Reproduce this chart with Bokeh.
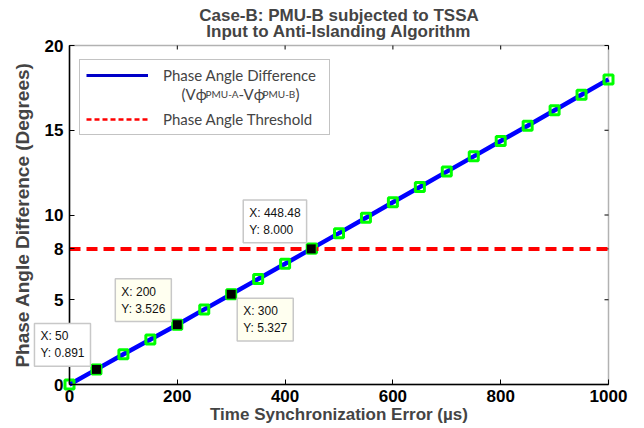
import math
from bokeh.plotting import figure
from bokeh.models import (Label, Legend, LegendItem, FixedTicker, Range1d,
                          ColumnDataSource, BoxAnnotation)
from bokeh.embed import file_html
from bokeh.resources import INLINE

# Phase angle difference vs. time synchronization error
error_us = [0, 50, 100, 150, 200, 250, 300, 350, 400, 450, 500,
            550, 600, 650, 700, 750, 800, 850, 900, 950, 1000]
phase_diff = [0.0, 0.891, 1.78, 2.66, 3.526, 4.43, 5.327, 6.22, 7.12, 8.03, 8.93,
              9.84, 10.75, 11.65, 12.56, 13.46, 14.37, 15.27, 16.18, 17.09, 18.0]
threshold = 8.0

# Data tips
tip_x = [50, 200, 300, 448.48]
tip_y = [0.891, 3.526, 5.327, 8.000]

x_ticks = [0, 200, 400, 600, 800, 1000]
y_ticks = [0, 5, 8, 10, 15, 20]

title_lines = ["Case-B: PMU-B subjected to TSSA", "Input to Anti-Islanding Algorithm"]

FONT = "Liberation Sans"
LEGEND_FONT = "Lato"

# The plotting area fills the canvas; the axes box is placed with margins
W, H = 644, 428
M_LEFT, M_RIGHT, M_TOP, M_BOTTOM = 69, 36, 45, 44
x0, x1 = x_ticks[0], x_ticks[-1]
y0, y1 = y_ticks[0], y_ticks[-1]
kx = (x1 - x0) / (W - M_LEFT - M_RIGHT)
ky = (y1 - y0) / (H - M_TOP - M_BOTTOM)

p = figure(width=W, height=H, output_backend="svg", toolbar_location=None,
           x_range=Range1d(x0 - M_LEFT * kx, x1 + M_RIGHT * kx),
           y_range=Range1d(y0 - M_BOTTOM * ky, y1 + M_TOP * ky),
           min_border=0)
p.grid.visible = False
p.outline_line_color = None
p.background_fill_color = "white"
p.border_fill_color = "white"

xa, ya = p.xaxis[0], p.yaxis[0]
xa.fixed_location = y0
ya.fixed_location = x0
xa.bounds = (x0, x1)
ya.bounds = (y0, y1)
for ax in (xa, ya):
    ax.major_label_text_font = FONT
    ax.major_label_text_font_size = "17px"
    ax.major_label_text_font_style = "bold"
    ax.major_label_text_color = "black"
    ax.axis_label_text_font = FONT
    ax.axis_label_text_font_style = "bold"
    ax.axis_line_width = 1.5
    ax.major_tick_in = 5
    ax.major_tick_out = 0
    ax.minor_tick_line_color = None

xa.ticker = FixedTicker(ticks=x_ticks)
ya.ticker = FixedTicker(ticks=y_ticks)
xa.axis_label = "Time Synchronization Error (µs)"
ya.axis_label = "Phase Angle Difference (Degrees)"
xa.axis_label_text_font_size = "17px"
ya.axis_label_text_font_size = "19px"
xa.major_label_standoff = 5
xa.axis_label_standoff = 0
ya.major_label_standoff = 6
ya.axis_label_standoff = 9

# Axes box with inward ticks on the top and right edges
p.add_layout(BoxAnnotation(left=x0, right=x1, bottom=y0, top=y1,
                           fill_color=None, line_color="black", line_width=1.5,
                           level="underlay"))
TICK_PX = 4
p.segment(x0=x_ticks, y0=[y1] * len(x_ticks), x1=x_ticks,
          y1=[y1 - TICK_PX * ky] * len(x_ticks), line_color="black", line_width=1)
p.segment(x0=[x1] * len(y_ticks), y0=y_ticks, x1=[x1 - TICK_PX * kx] * len(y_ticks),
          y1=y_ticks, line_color="black", line_width=1)

# Curve, markers and threshold
p.line(error_us, phase_diff, line_color="#0000ff", line_width=4.5)
p.scatter(error_us, phase_diff, marker="square", size=9, fill_color=None,
          line_color="#00ff00", line_width=3)
p.line([x0, x1], [threshold, threshold], line_color="#ff0000",
       line_width=4, line_dash="11 6")

# Highlighted data-tip points
p.scatter(tip_x, tip_y, marker="square", size=10, fill_color="black",
          line_color="#00ff00", line_width=1)

tip_dx = [-62, -62, 6, -68]
tip_dy = [46, 46, -4, 49]
tip_bg = ["#ffffff", "#fffff0", "#fffff0", "#ffffff"]
for xv, yv, dx, dy, bg in zip(tip_x, tip_y, tip_dx, tip_dy, tip_bg):
    xs = f"{xv:g}" if float(xv).is_integer() else f"{xv:.2f}"
    p.add_layout(Label(x=xv, y=yv, x_offset=dx, y_offset=dy, anchor="top_left",
                       text=f"X: {xs}\nY: {yv:.3f}", text_font=FONT,
                       text_font_size="12px", text_color="#111111",
                       background_fill_color=bg, border_line_color="#c8c8c8",
                       border_line_width=1.5, padding=6, level="overlay"))

# Legend-only renderers (nothing drawn in the plot)
nan_src = ColumnDataSource(data=dict(x=[math.nan], y=[math.nan]))
lg_blue = p.line("x", "y", source=nan_src, line_color="#0000c8", line_width=3)
lg_red = p.line("x", "y", source=nan_src, line_color="#ff0000", line_width=2.5,
                line_dash="5 3")
legend = Legend(items=[LegendItem(label="Phase Angle Difference", renderers=[lg_blue]),
                       LegendItem(label="Phase Angle Threshold", renderers=[lg_red])],
                location=(M_LEFT + 10, M_BOTTOM + 249), orientation="vertical",
                label_text_font=LEGEND_FONT, label_text_font_size="15px",
                label_height=18, glyph_height=18, label_width=160,
                glyph_width=62, label_standoff=15,
                padding=6, spacing=26, margin=0,
                border_line_color="#888888", border_line_width=1,
                background_fill_alpha=0.0)
p.add_layout(legend)

# Second line of the first legend entry, with small-cap PMU names
parts = [("(Vϕ", "15px", 0), ("PMU-A", "10px", 24), ("-Vϕ", "15px", 57),
         ("PMU-B", "10px", 81), (")", "15px", 114)]
for txt, fs, dx in parts:
    p.add_layout(Label(x=x0, y=y1, x_offset=112 + dx, y_offset=-48, text=txt,
                       text_font=LEGEND_FONT, text_font_size=fs,
                       text_baseline="alphabetic", level="overlay"))

# Two-line title centred over the axes box
for line, dy in zip(title_lines, [30, 14]):
    p.add_layout(Label(x=(x0 + x1) / 2, y=y1, y_offset=dy, text=line,
                       text_font=FONT, text_font_size="17px",
                       text_font_style="bold", text_align="center",
                       text_baseline="middle", level="overlay"))

open("out.html", "w").write(file_html(p, INLINE))
